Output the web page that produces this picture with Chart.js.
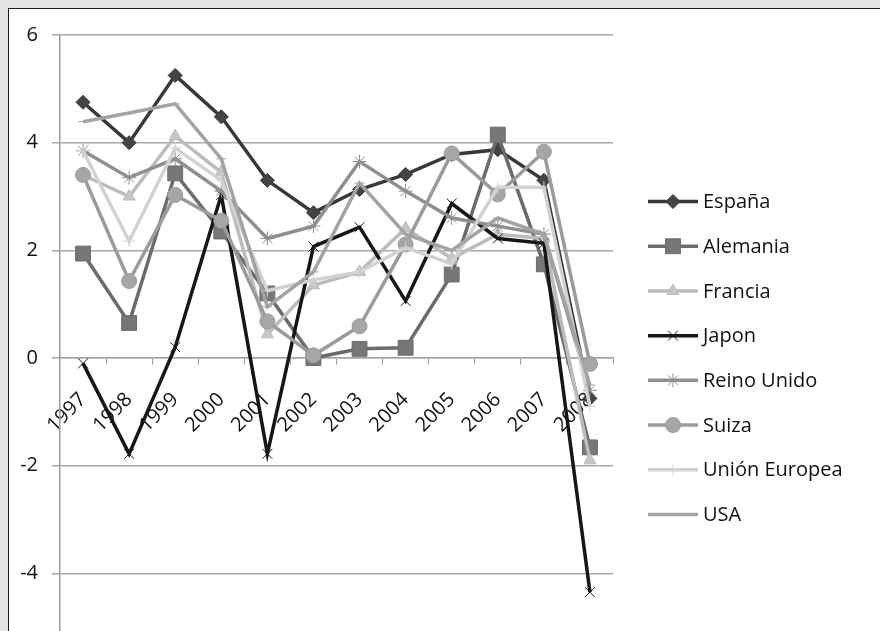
<!DOCTYPE html>
<html>
<head>
<meta charset="utf-8">
<script src="https://cdn.jsdelivr.net/npm/chart.js@4.4.1/dist/chart.umd.min.js"></script>
<style>
  html, body { margin: 0; padding: 0; width: 880px; height: 631px; overflow: hidden; background: #e4e4e4; }
  #frame { position: absolute; left: 8px; top: 8px; width: 872px; height: 700px; background: #fff;
           border-left: 1px solid #1e1e1e; border-top: 1px solid #1e1e1e; }
  #chart { display: block; }
</style>
</head>
<body>
<div id="frame"><canvas id="chart" width="871" height="700"></canvas></div>
<script>
// === Data ===
const YEARS = ["1997", "1998", "1999", "2000", "2001", "2002", "2003", "2004", "2005", "2006", "2007", "2008"];

const ESPANA   = [4.75, 4.0, 5.25, 4.48, 3.3, 2.7, 3.13, 3.41, 3.78, 3.87, 3.3, -0.75];
const ALEMANIA = [1.94, 0.65, 3.43, 2.35, 1.2, 0.0, 0.17, 0.19, 1.55, 4.15, 1.74, -1.66];
const FRANCIA  = [3.4, 3.0, 4.12, 3.45, 0.44, 1.35, 1.6, 2.41, 1.85, 2.3, 2.22, -1.9];
const JAPON    = [-0.1, -1.78, 0.2, 3.03, -1.78, 2.07, 2.43, 1.06, 2.87, 2.22, 2.13, -4.35];
const REINO    = [3.85, 3.35, 3.7, 3.1, 2.22, 2.45, 3.65, 3.1, 2.6, 2.45, 2.3, -0.6];
const SUIZA    = [3.4, 1.43, 3.03, 2.55, 0.68, 0.05, 0.59, 2.11, 3.8, 3.04, 3.83, -0.11];
const UE       = [3.85, 2.17, 3.9, 3.3, 1.25, 1.45, 1.6, 2.05, 1.75, 3.17, 3.17, -0.9];
const USA      = [4.39, 4.55, 4.72, 3.7, 0.95, 1.6, 3.25, 2.3, 2.0, 2.6, 2.3, -0.5];

const Y_MIN = -6, Y_MAX = 6, Y_STEP = 2;

// === Series styles ===
const SERIES = [
  { label: "España",        data: ESPANA,   color: "#383838", fill: "#444444", style: "rectRot",  r: 7 },
  { label: "Alemania",      data: ALEMANIA, color: "#6b6b6b", fill: "#777777", style: "rect",     r: 10.5 },
  { label: "Francia",       data: FRANCIA,  color: "#bcbcbc", fill: "#c6c6c6", style: "triangle", r: 7 },
  { label: "Japon",         data: JAPON,    color: "#161616", fill: "#161616", style: "crossRot", r: 7 },
  { label: "Reino Unido",   data: REINO,    color: "#8f8f8f", fill: "#8f8f8f", style: "star",     r: 7 },
  { label: "Suiza",         data: SUIZA,    color: "#9b9b9b", fill: "#a6a6a6", style: "circle",   r: 7.5 },
  { label: "Unión Europea", data: UE,       color: "#d2d2d2", fill: "#d2d2d2", style: "cross",    r: 6 },
  { label: "USA",           data: USA,      color: "#a3a3a3", fill: "#a3a3a3", style: "line",     r: 5 }
];

const FONT = "'Open Sans', 'DejaVu Sans', sans-serif";
Chart.defaults.font.family = FONT;
Chart.defaults.font.size = 20;
Chart.defaults.color = "#111";

// =========================
// SIDE LEGEND (line + marker, like Excel)
// =========================
const sideLegend = {
  id: "sideLegend",
  afterDraw(chart) {
    const { ctx, chartArea } = chart;
    const sets = chart.data.datasets;
    const step = 44.7;
    const x0 = chartArea.right + 35;
    const y0 = (chartArea.top + chartArea.bottom) / 2 - step * (sets.length - 1) / 2;

    ctx.save();
    sets.forEach((d, i) => {
      const y = y0 + i * step;
      ctx.strokeStyle = d.borderColor;
      ctx.lineWidth = d.borderWidth;
      ctx.beginPath(); ctx.moveTo(x0, y); ctx.lineTo(x0 + 50, y); ctx.stroke();

      ctx.fillStyle = d.pointBackgroundColor;
      ctx.lineWidth = 1;
      Chart.helpers.drawPoint(ctx, { pointStyle: d.pointStyle, radius: d.pointRadius, borderWidth: 1, rotation: 0 }, x0 + 25, y);

      ctx.fillStyle = "#111";
      ctx.font = "20px " + FONT;
      ctx.textAlign = "left";
      ctx.textBaseline = "middle";
      ctx.fillText(d.label, x0 + 55, y + 1);
    });
    ctx.restore();
  }
};

const datasets = SERIES.map((s, i) => ({
  label: s.label,
  data: s.data,
  borderColor: s.color,
  backgroundColor: s.fill,
  borderWidth: 3.5,
  tension: 0,
  pointStyle: s.style,
  pointRadius: s.r,
  pointBackgroundColor: s.fill,
  pointBorderColor: s.color,
  pointBorderWidth: 1,
  order: 10 - i          // later series on top, as in Excel
}));

new Chart(document.getElementById("chart"), {
  type: "line",
  data: { labels: YEARS, datasets },
  options: {
    responsive: false,
    animation: false,
    layout: { padding: { top: 24, bottom: 28, left: 0, right: 267 } },
    plugins: {
      tooltip: { enabled: false },
      legend: { display: false }
    },
    scales: {
      x: {
        type: "category",
        position: { y: 0 },
        offset: true,
        grid: { offset: true, drawOnChartArea: false, drawTicks: true, tickLength: 6, color: "#9a9a9a", lineWidth: 1 },
        border: { color: "#a4a4a4", width: 1.5 },
        ticks: { minRotation: 45, maxRotation: 45, autoSkip: false, padding: 24, color: "#111", font: { size: 20 } }
      },
      y: {
        min: Y_MIN,
        max: Y_MAX,
        ticks: { stepSize: Y_STEP, padding: 14, color: "#111", font: { size: 20 } },
        grid: { color: "#a8a8a8", lineWidth: 1.5, tickLength: 8 },
        border: { color: "#9a9a9a", width: 1.5 },
        afterFit(scale) { scale.width = 51; }
      }
    }
  },
  plugins: [sideLegend]
});
</script>
</body>
</html>
